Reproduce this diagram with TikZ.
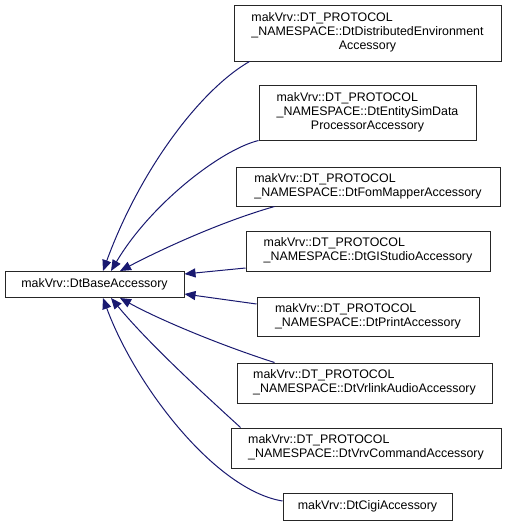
\documentclass[tikz,border=0pt]{standalone}
\usepackage{fontspec}
\setmainfont{Liberation Sans}
\usetikzlibrary{arrows.meta}
\definecolor{edgecol}{HTML}{191970}
\newcommand{\twolbl}[2]{\begin{tabular}{@{}l@{}}#1\\#2\end{tabular}}
\newcommand{\threelbl}[3]{\begin{tabular}{@{}l@{}}#1\\#2\\\multicolumn{1}{@{}c@{}}{#3}\end{tabular}}
\begin{document}
\begin{tikzpicture}[x=1pt,y=-1pt,
  cls/.style={draw=black!85,line width=1pt,fill=white,inner sep=0pt,
    font=\fontsize{12.4}{14}\selectfont},
  inh/.style={draw=edgecol,line width=1pt,
    {Triangle[length=11pt,width=9pt]}-,fill=none},
  ]
\useasboundingbox (0,0) rectangle (509,525);
\node[cls,minimum width=179pt,minimum height=26pt] (base) at (94.5,284.5) {makVrv::DtBaseAccessory};
\node[cls,minimum width=267pt,minimum height=56pt] (b1) at (367.5,33) {\threelbl{makVrv::DT\_PROTOCOL}{\_NAMESPACE::DtDistributedEnvironment}{Accessory}};
\node[cls,minimum width=217pt,minimum height=55pt] (b2) at (367.5,112.5) {\threelbl{makVrv::DT\_PROTOCOL}{\_NAMESPACE::DtEntitySimData}{ProcessorAccessory}};
\node[cls,minimum width=264pt,minimum height=39pt] (b3) at (368,186.5) {\twolbl{makVrv::DT\_PROTOCOL}{\_NAMESPACE::DtFomMapperAccessory}};
\node[cls,minimum width=244pt,minimum height=40pt] (b4) at (368,251) {\twolbl{makVrv::DT\_PROTOCOL}{\_NAMESPACE::DtGIStudioAccessory}};
\node[cls,minimum width=222pt,minimum height=39pt] (b5) at (368,316.5) {\twolbl{makVrv::DT\_PROTOCOL}{\_NAMESPACE::DtPrintAccessory}};
\node[cls,minimum width=255pt,minimum height=40pt] (b6) at (364.5,383) {\twolbl{makVrv::DT\_PROTOCOL}{\_NAMESPACE::DtVrlinkAudioAccessory}};
\node[cls,minimum width=270pt,minimum height=40pt] (b7) at (366,448) {\twolbl{makVrv::DT\_PROTOCOL}{\_NAMESPACE::DtVrvCommandAccessory}};
\node[cls,minimum width=169pt,minimum height=27pt] (b8) at (367.5,506.5) {makVrv::DtCigiAccessory};
% edges
\draw[inh] ([xshift=8.5pt]base.north) .. controls (140,170) and (200,90) .. ([xshift=16pt]b1.south west);
\draw[inh] ([xshift=16.5pt]base.north) .. controls (150,205) and (220,150) .. (b2.south west);
\draw[inh] ([xshift=25.5pt]base.north) .. controls (160,250) and (220,222) .. ([xshift=39pt]b3.south west);
\draw[inh] ([yshift=10.5pt]base.east) -- ([yshift=-17pt]b4.west);
\draw[inh] ([yshift=-9.5pt]base.east) -- ([yshift=12.5pt]b5.west);
\draw[inh] ([xshift=25.5pt]base.south) .. controls (160,320) and (220,345) .. ([xshift=38pt]b6.north west);
\draw[inh] ([xshift=16.5pt]base.south) .. controls (150,345) and (205,395) .. ([xshift=10pt]b7.north west);
\draw[inh] ([xshift=8.5pt]base.south) .. controls (135,385) and (215,490) .. ([yshift=5.5pt]b8.west);
\end{tikzpicture}
\end{document}
